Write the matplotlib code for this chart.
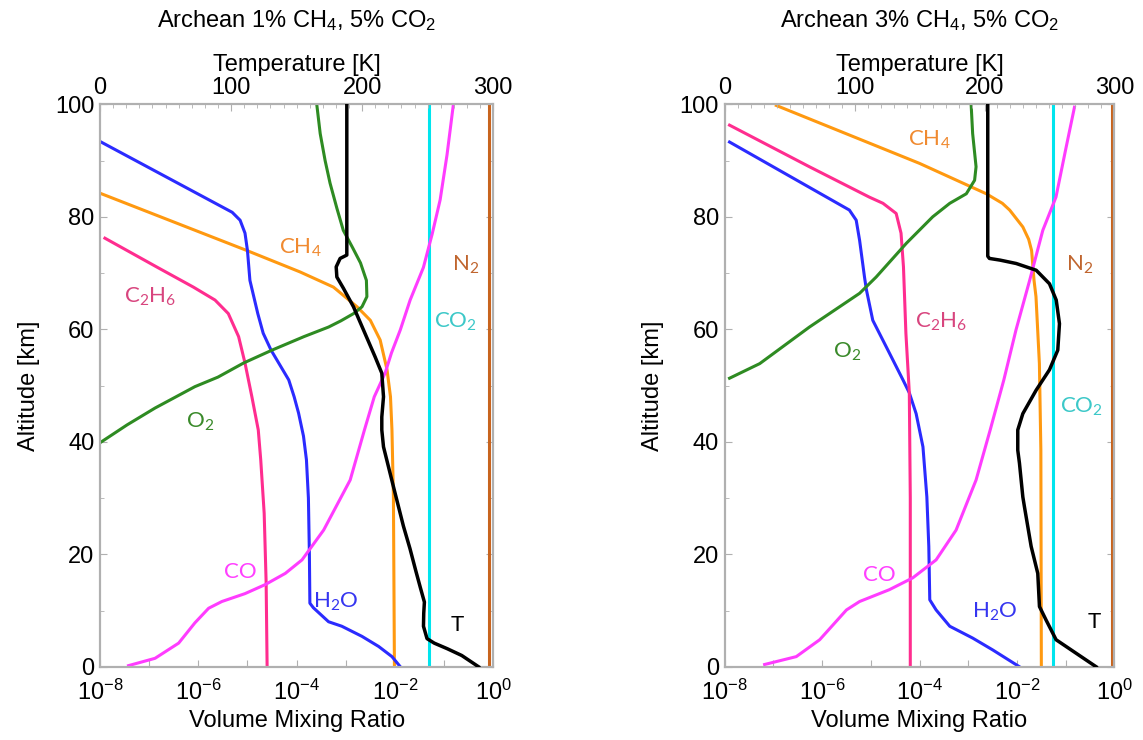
import matplotlib
matplotlib.use("Agg")
import matplotlib.pyplot as plt
import numpy as np
from matplotlib.ticker import MultipleLocator, FixedLocator

plt.rcParams['font.family'] = ['Liberation Sans', 'DejaVu Sans']
plt.rcParams['mathtext.default'] = 'regular'

# ---------------- left panel: Archean 1% CH4, 5% CO2 ----------------
# species: log10(volume mixing ratio) vs altitude [km]
l_n2_alt = [0, 100]
l_n2 = [-0.08, -0.08]
l_co2_alt = [0, 100]
l_co2 = [-1.3, -1.3]
l_ch4_alt = [84.2, 74, 70.2, 67.5, 64, 61.6, 58.1, 52.8, 48, 42.1, 30, 0]
l_ch4 = [-8, -5.01, -3.93, -3.25, -2.77, -2.50, -2.30, -2.16, -2.09, -2.06, -2.03, -2.01]
l_h2o_alt = [93.4, 80.8, 79.4, 77.1, 74, 68.7, 62.8, 59.3, 56.3, 51, 48, 45.1, 41, 36.8, 30, 20, 11.3,
             10.5, 8.0, 7.2, 5.4, 3.6, 1.8, 0]
l_h2o = [-8, -5.31, -5.15, -5.05, -5.0, -4.95, -4.79, -4.68, -4.52, -4.16, -4.05, -3.96, -3.86, -3.80,
         -3.76, -3.74, -3.73, -3.66, -3.35, -3.08, -2.67, -2.33, -2.06, -1.89]
l_c2h6_alt = [76.2, 71.1, 67.5, 65.2, 62.8, 58.7, 54, 48, 42.1, 36.8, 27.3, 15, 0]
l_c2h6 = [-7.90, -6.85, -6.10, -5.66, -5.39, -5.18, -5.05, -4.91, -4.78, -4.73, -4.66, -4.62, -4.60]
l_o2_alt = [100, 94.8, 90, 86, 81.5, 77.6, 74.5, 71.8, 68.7, 65.8, 64, 62.8, 61.5, 60.4, 58.7, 56.3,
            54, 51.5, 49.8, 46, 43, 40]
l_o2 = [-3.59, -3.52, -3.42, -3.32, -3.18, -3.05, -2.86, -2.70, -2.58, -2.57, -2.67, -2.84, -3.10,
        -3.35, -3.85, -4.50, -5.08, -5.60, -6.07, -6.88, -7.45, -7.97]
l_co_alt = [0.2, 1.5, 4.2, 7.8, 10.4, 11.6, 13.0, 14.6, 16.6, 19, 24.3, 33.2, 42.1, 48, 52.2, 55.8,
            59.9, 65.2, 71, 77, 83, 91, 100]
l_co = [-7.42, -6.88, -6.40, -6.07, -5.79, -5.52, -5.05, -4.64, -4.23, -3.89, -3.45, -2.91, -2.62,
        -2.42, -2.20, -2.07, -1.89, -1.69, -1.42, -1.24, -1.08, -0.94, -0.81]
# temperature [K] vs altitude [km]
l_t_alt = [100, 73.2, 72.6, 71.1, 69.3, 67.3, 64, 59.9, 55.1, 52.2, 48, 44.4, 42.1, 39.1, 32, 25, 21,
           17, 14, 11.5, 9.5, 7.2, 5, 4.2, 3.2, 2, 0]
l_t = [188.3, 188.3, 183.2, 180.2, 180.7, 185.7, 193.4, 201, 209.9, 215, 216.3, 215, 215, 216.3,
       223.9, 231.5, 236.5, 241, 244.5, 247.5, 247, 246.8, 249.5, 255, 265, 276, 288.8]

# ---------------- right panel: Archean 3% CH4, 5% CO2 ----------------
r_n2_alt = [0, 100]
r_n2 = [-0.05, -0.05]
r_co2_alt = [0, 100]
r_co2 = [-1.27, -1.27]
r_ch4_alt = [99.8, 94.3, 89.5, 84.1, 82.4, 81.2, 78.2, 76, 74, 68.7, 65.8, 53.9, 38.5, 0]
r_ch4 = [-6.94, -5.37, -4.0, -2.63, -2.30, -2.15, -1.88, -1.76, -1.70, -1.65, -1.61, -1.54, -1.51, -1.50]
r_h2o_alt = [93.3, 81.2, 79.4, 75.8, 69.3, 67, 61.6, 55.8, 51, 48.7, 45, 39.1, 30.2, 21.4, 11.9, 10.1,
             7.2, 5.1, 3.0, 0]
r_h2o = [-7.90, -5.44, -5.30, -5.23, -5.13, -5.09, -4.96, -4.62, -4.34, -4.21, -4.07, -3.93, -3.85,
         -3.81, -3.79, -3.66, -3.38, -2.91, -2.50, -1.95]
r_c2h6_alt = [96.3, 88.9, 83.5, 82.4, 80.6, 77.1, 71.1, 59.3, 48.7, 30, 0]
r_c2h6 = [-7.90, -6.26, -5.03, -4.75, -4.48, -4.38, -4.33, -4.28, -4.21, -4.19, -4.19]
r_o2_alt = [99.8, 94.8, 88.9, 86.5, 84.1, 82.4, 80, 75.3, 69.3, 66.4, 60.4, 53.9, 51.3]
r_o2 = [-2.94, -2.91, -2.84, -2.87, -3.04, -3.38, -3.73, -4.27, -4.89, -5.23, -6.26, -7.28, -7.90]
r_co_alt = [0.4, 1.8, 4.8, 10.1, 11.6, 13.7, 15.8, 19, 24.3, 33.2, 42.1, 51, 59.9, 68.7, 77.6, 83.5,
            92, 99.5]
r_co = [-7.18, -6.53, -6.05, -5.50, -5.23, -4.62, -4.14, -3.66, -3.25, -2.84, -2.55, -2.27, -2.02,
        -1.74, -1.47, -1.20, -1.0, -0.82]
r_t_alt = [100, 73, 72.6, 72.3, 71.7, 70.5, 68.1, 65.2, 61, 56.3, 52.8, 49.2, 45, 42.1, 38.5, 36.2,
           30.2, 28.5, 21.4, 16.6, 10.7, 8.3, 4.8, 2.4, 0]
r_t = [202.5, 202.5, 203.8, 212, 224.4, 239.8, 250, 255.2, 257.7, 256.4, 250, 239.8, 229.5, 225.6,
       225.6, 226.9, 229.5, 230.7, 235.9, 241, 242.3, 247.4, 255.1, 270.5, 285.9]

titles = ["Archean 1% CH$_4$, 5% CO$_2$", "Archean 3% CH$_4$, 5% CO$_2$"]

colors = {
    'N2': '#c8641e', 'CO2': '#00e5ee', 'CH4': '#ff9910', 'H2O': '#2b2bff',
    'C2H6': '#ff2d8f', 'O2': '#2e8b22', 'CO': '#ff3cff', 'T': 'black',
}
text_colors = {
    'N2': '#c0652e', 'CO2': '#3cc8c8', 'CH4': '#f08a30', 'H2O': '#3535f0',
    'C2H6': '#d8457e', 'O2': '#3a8a2a', 'CO': '#ff40ff', 'T': 'black',
}
names = {
    'N2': 'N$_2$', 'CO2': 'CO$_2$', 'CH4': 'CH$_4$', 'H2O': 'H$_2$O',
    'C2H6': 'C$_2$H$_6$', 'O2': 'O$_2$', 'CO': 'CO', 'T': 'T',
}

panels = [
    dict(species={'N2': (l_n2, l_n2_alt), 'CO2': (l_co2, l_co2_alt), 'CH4': (l_ch4, l_ch4_alt),
                  'H2O': (l_h2o, l_h2o_alt), 'C2H6': (l_c2h6, l_c2h6_alt), 'O2': (l_o2, l_o2_alt),
                  'CO': (l_co, l_co_alt)},
         temp=(l_t, l_t_alt),
         labels={'CH4': (-3.93, 74.4), 'C2H6': (-6.98, 65.7), 'N2': (-0.56, 71.4), 'CO2': (-0.77, 61.3),
                 'O2': (-5.96, 43.5), 'CO': (-5.15, 16.9), 'H2O': (-3.21, 11.5), 'T': (-0.73, 7.5)},
         rect=[0.0875, 0.099, 0.344, 0.760]),
    dict(species={'N2': (r_n2, r_n2_alt), 'CO2': (r_co2, r_co2_alt), 'CH4': (r_ch4, r_ch4_alt),
                  'H2O': (r_h2o, r_h2o_alt), 'C2H6': (r_c2h6, r_c2h6_alt), 'O2': (r_o2, r_o2_alt),
                  'CO': (r_co, r_co_alt)},
         temp=(r_t, r_t_alt),
         labels={'CH4': (-3.79, 93.6), 'N2': (-0.72, 71.4), 'C2H6': (-3.55, 61.3), 'O2': (-5.48, 56.0),
                 'CO2': (-0.68, 46.2), 'CO': (-4.82, 16.3), 'H2O': (-2.46, 9.8), 'T': (-0.41, 8.0)},
         rect=[0.634, 0.099, 0.341, 0.760]),
]

fig = plt.figure(figsize=(11.43, 7.40), dpi=100)
spine_col = '#b0b0b0'
fs = 17

for i, p in enumerate(panels):
    ax = fig.add_axes(p['rect'])
    for key, (lv, alt) in p['species'].items():
        ax.plot(10 ** np.array(lv), alt, color=colors[key], lw=2.2, zorder=2,
                solid_joinstyle='round')
    ax.set_xscale('log')
    ax.set_xlim(1e-8, 1e0)
    ax.set_ylim(0, 100)
    ax.xaxis.set_major_locator(FixedLocator([10.0 ** k for k in range(-8, 1)]))
    ax.xaxis.set_minor_locator(FixedLocator([]))
    ax.set_xticklabels(['$10^{%d}$' % k if k % 2 == 0 else '' for k in range(-8, 1)])
    ax.set_yticks([0, 20, 40, 60, 80, 100])
    ax.yaxis.set_minor_locator(MultipleLocator(10))
    ax.tick_params(axis='both', which='both', direction='in', top=False, right=True,
                   labelsize=fs, color=spine_col)
    ax.tick_params(axis='x', which='major', length=5, pad=9)
    ax.tick_params(axis='y', which='major', length=5, pad=4)
    ax.tick_params(axis='y', which='minor', length=3)
    ax.set_xlabel('Volume Mixing Ratio', fontsize=fs, labelpad=4)
    ax.set_ylabel('Altitude [km]', fontsize=fs, labelpad=11)
    for s in ax.spines.values():
        s.set_color(spine_col)
        s.set_linewidth(1.5)

    ax2 = ax.twiny()
    t, talt = p['temp']
    ax2.plot(t, talt, color=colors['T'], lw=2.5, zorder=3, solid_joinstyle='round')
    ax2.set_xlim(0, 300)
    ax2.set_xticks([0, 100, 200, 300])
    ax2.xaxis.set_minor_locator(MultipleLocator(10))
    ax2.tick_params(axis='x', which='both', direction='in', labelsize=fs, color=spine_col, pad=4)
    ax2.tick_params(axis='x', which='major', length=5)
    ax2.tick_params(axis='x', which='minor', length=3)
    ax2.set_xlabel('Temperature [K]', fontsize=fs, labelpad=4)
    for s in ax2.spines.values():
        s.set_color(spine_col)
        s.set_linewidth(1.5)

    cx = p['rect'][0] + p['rect'][2] / 2
    fig.text(cx, 0.972, titles[i], fontsize=fs, ha='center', va='center')

    for key, (lx, ly) in p['labels'].items():
        ax.text(10 ** lx, ly, names[key], color=text_colors[key], fontsize=16,
                family=['Lato', 'DejaVu Sans'], ha='center', va='center', zorder=4)

fig.savefig('out.png', dpi=100)
